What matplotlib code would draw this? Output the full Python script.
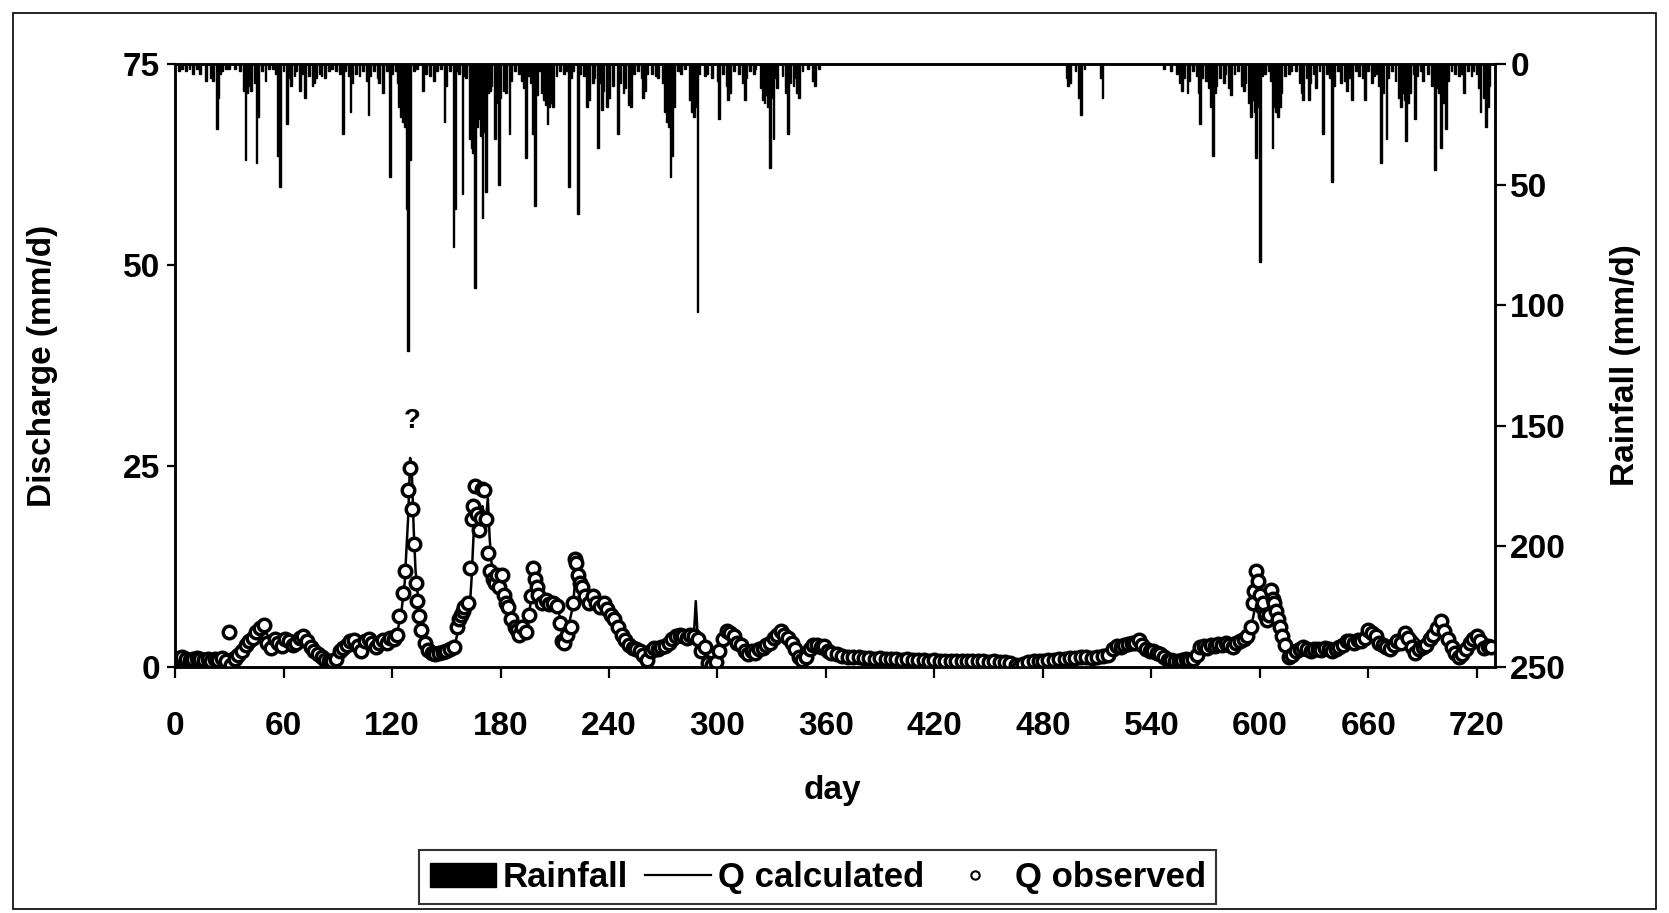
import numpy as np
import matplotlib

matplotlib.use("Agg")
import matplotlib.pyplot as plt
from matplotlib.patches import Rectangle
from matplotlib.lines import Line2D

plt.rcParams.update({
    "font.family": ["Liberation Sans", "DejaVu Sans"],
    "font.weight": "bold",
    "font.size": 24,
    "axes.linewidth": 1.8,
})

# ---- rainfall (mm/d) at the top -------------------------------------------
RAIN_DAY = [
    2, 4, 6, 8, 10, 12, 14, 17, 20, 21, 23, 24, 25, 26, 28, 30, 33, 36, 38, 39,
    40, 41, 42, 44, 45, 46, 48, 50, 52, 54, 56, 57, 58, 60, 62, 63, 64, 66, 67,
    69, 70, 72, 74, 76, 77, 78, 80, 81, 83, 85, 87, 89, 91, 93, 94, 96, 97, 98,
    100, 102, 104, 106, 107, 108, 110, 112, 113, 115, 117, 119, 120, 122, 123,
    124, 125, 126, 127, 128, 129, 130,
    132, 134, 137, 139, 141, 143, 145, 147, 149, 150, 152, 154, 155, 156, 157,
    159, 160, 161, 163, 164, 165, 166, 167, 168, 169, 170, 171, 172, 173, 174,
    175, 177, 178, 179, 180, 182, 183, 185, 186, 188, 190, 192, 193, 194, 195,
    197, 198, 199, 200, 202, 203, 204, 205, 206, 207, 208, 209, 211, 213, 215,
    216, 218, 219, 220, 223, 224, 226, 228, 229, 231, 232, 234, 235, 236, 237,
    239, 240, 242, 245, 246, 248, 249, 251, 252, 254, 256,
    258, 259, 260, 261, 264, 266, 267, 270, 271, 272, 273, 274, 275, 276, 278,
    280, 282, 285, 286, 287, 288, 289, 290, 293, 294, 297, 300, 301, 303, 305,
    306, 307, 309, 312, 314, 315, 316, 318, 320, 321, 324, 325, 326, 327, 328,
    329, 330, 331, 332, 333, 336, 338, 339, 340, 342, 343, 344, 345, 347, 350,
    353, 354, 356,
    493, 494, 495, 498, 500, 501, 503, 512, 513,
    547, 551, 554, 556, 557, 558, 560, 561, 563, 565, 566, 567, 568, 570, 571,
    572, 573, 574, 575, 576, 578, 580, 581, 583, 584, 586, 588, 590, 591, 592,
    594, 595, 596, 597, 598, 599, 600, 601, 603, 605, 606, 607, 608, 609, 610,
    611, 612, 614, 616, 617, 620, 622, 623, 624, 626, 627, 628, 630, 631, 633,
    635, 637, 639, 640, 641, 643, 645, 647, 648, 650, 651, 653, 655, 657, 658,
    660, 662, 663, 665, 666, 667, 668, 670, 671, 673, 675, 677, 678, 679, 680,
    681, 682, 683, 685, 686, 687, 689, 690, 693, 695, 696, 697, 698, 699, 700,
    701, 702, 703, 704, 706, 708, 710, 712, 713, 715, 717, 718, 720, 721, 722,
    724, 725, 726, 727,
]
RAIN_MM = [
    3, 2, 3, 2, 4, 2, 4, 7, 6, 7, 27, 14, 4, 3, 2, 2, 2, 3, 11, 40,
    12, 9, 11, 8, 41, 22, 3, 7, 2, 2, 4, 38, 51, 3, 25, 6, 9, 5, 3,
    11, 4, 14, 5, 9, 8, 6, 4, 5, 6, 3, 2, 3, 4, 29, 3, 5, 20, 8,
    4, 5, 3, 7, 21, 5, 3, 6, 8, 12, 3, 47, 4, 3, 8,
    18, 22, 24, 26, 60, 119, 40,
    3, 2, 11, 4, 5, 7, 3, 2, 24, 9, 3, 76, 60, 3, 4,
    54, 5, 6, 31, 35, 37, 93, 26, 23, 30, 64, 28, 53, 12, 11,
    9, 31, 16, 50, 14, 11, 12, 29, 7, 3, 4, 7, 10, 39, 5,
    8, 29, 59, 13, 3, 12, 15, 17, 25, 18, 16, 18, 5, 3, 4,
    3, 51, 6, 3, 62, 4, 5, 18, 15, 8, 6, 35, 8, 19, 11,
    18, 14, 9, 29, 8, 12, 10, 17, 18, 4, 3,
    6, 14, 11, 4, 4, 5, 6, 8, 20, 24, 26, 47, 38, 18, 3,
    4, 2, 15, 20, 22, 18, 103, 4, 5, 4, 6, 7, 23, 4, 9,
    15, 12, 3, 4, 8, 15, 6, 3, 4, 2, 10, 15, 16, 13, 18,
    43, 14, 31, 6, 10, 5, 12, 29, 8, 9, 6, 12, 14, 3, 2,
    7, 9, 2,
    6, 9, 8, 3, 14, 21, 2, 6, 14,
    2, 3, 4, 8, 11, 6, 12, 7, 3, 5, 12, 25, 6, 7, 3,
    10, 18, 38, 12, 9, 6, 8, 4, 10, 13, 4, 3, 9, 11, 8,
    16, 22, 15, 20, 39, 18, 82, 5, 4, 3, 7, 35, 18, 20, 22,
    18, 12, 5, 4, 3, 3, 8, 12, 15, 6, 15, 8, 4, 10, 3,
    29, 4, 6, 49, 9, 3, 8, 7, 11, 6, 15, 3, 5, 6, 15,
    3, 8, 5, 4, 9, 41, 12, 31, 6, 3, 7, 14, 18, 12, 15,
    32, 16, 12, 4, 23, 5, 3, 7, 4, 9, 8, 44, 10, 12, 35,
    15, 16, 27, 7, 3, 4, 5, 4, 12, 3, 5, 3, 4, 10, 20,
    14, 26, 18, 9,
]

# ---- calculated discharge (mm/d) ------------------------------------------
QC_DAY = [
    0, 5, 10, 15, 20, 24, 27, 30, 33, 36, 39, 42, 45, 48, 50, 52, 55, 58, 61,
    64, 67, 70, 73, 76, 79, 82, 85, 88, 91, 94, 97, 100, 103, 106, 109, 112,
    115, 118, 121, 123, 125, 127, 129, 130, 131, 132, 133, 134, 135, 137, 139,
    141, 144, 147, 150, 153, 155, 157, 159, 161, 163, 164, 165, 166, 167, 168,
    169, 170, 171, 172, 173, 174, 175, 177, 179, 181, 183, 185, 187, 189, 191,
    193, 195, 197, 199, 200, 202, 204, 206, 208, 210, 212, 214, 216, 218, 220,
    222, 224, 226, 228, 230, 232, 234, 236, 238, 240, 242, 244, 246, 248, 250,
    252, 255, 258, 261, 264, 267, 270, 273, 276, 279, 282, 285, 287, 288, 289,
    291, 293, 295, 297, 299, 301, 303, 305, 307, 309, 311, 313, 315, 317, 319,
    321, 323, 325, 327, 328, 330, 332, 334, 336, 338, 340, 342, 344, 346, 348,
    350, 352, 355, 358, 361, 364, 367, 370, 380, 390, 400, 410, 420, 430, 440,
    450, 460, 465, 470, 480, 490, 500, 510, 515, 519, 523, 527, 531, 535, 539,
    543, 547, 551, 555, 559, 563, 566, 569, 572, 575, 578, 581, 584, 587, 590,
    593, 595, 597, 599, 600, 602, 604, 606, 608, 610, 612, 614, 616, 618, 620,
    623, 626, 629, 632, 635, 638, 641, 644, 647, 650, 653, 656, 659, 662, 665,
    668, 671, 674, 677, 680, 683, 686, 689, 692, 695, 698, 700, 702, 705, 708,
    711, 714, 717, 720, 723, 726, 729,
]
QC_VAL = [
    1.2, 1.1, 1.0, 1.0, 0.9, 1.5, 1.2, 1.6, 2.0, 2.4, 2.8, 3.5, 3.8, 4.0, 4.5,
    3.6, 3.2, 3.4, 3.0, 2.8, 3.0, 3.4, 3.2, 2.6, 1.9, 1.4, 1.0, 0.9, 1.6, 2.2,
    2.4, 2.8, 2.9, 2.7, 3.0, 3.2, 3.0, 3.3, 3.6, 4.5, 6.5, 10.5, 19.0, 26.0,
    24.0, 17.0, 12.0, 9.5, 7.5, 5.5, 3.8, 2.6, 2.1, 2.0, 2.1, 2.3, 3.0, 5.0,
    6.0, 6.8, 7.5, 11.0, 16.0, 19.5, 20.0, 18.0, 17.0, 20.0, 19.0, 18.5, 21.0,
    16.0, 13.0, 11.5, 11.0, 10.5, 9.0, 7.5, 5.8, 4.8, 4.5, 4.6, 5.5, 8.5, 11.5,
    11.0, 9.5, 8.5, 8.3, 8.0, 7.8, 7.0, 5.0, 4.0, 5.5, 7.5, 12.5, 12.0, 10.0,
    9.0, 8.5, 8.0, 8.3, 7.8, 7.5, 7.0, 6.5, 5.8, 5.0, 4.2, 3.4, 3.0, 2.6, 2.5,
    2.0, 2.3, 2.5, 2.6, 3.2, 3.6, 3.8, 3.9, 4.0, 4.2, 8.2, 4.0, 3.0, 2.2, 1.3,
    0.8, 1.2, 2.5, 3.2, 3.8, 4.0, 3.6, 3.0, 2.6, 2.5, 2.2, 2.0, 2.2, 2.4, 2.6,
    2.8, 3.3, 3.5, 3.8, 4.0, 3.8, 3.5, 3.2, 2.6, 1.8, 1.2, 1.0, 1.8, 2.5, 2.7,
    2.5, 2.2, 1.9, 1.6, 1.4, 1.2, 1.1, 1.0, 0.9, 0.9, 0.8, 0.8, 0.7, 0.6, 0.4,
    0.6, 0.8, 0.9, 1.0, 1.2, 1.4, 2.0, 2.6, 2.9, 3.0, 2.6, 2.2, 1.8, 1.4, 1.0,
    0.9, 0.9, 1.0, 2.0, 2.4, 2.6, 2.8, 2.7, 2.9, 3.0, 3.1, 3.3, 3.9, 4.8, 7.0,
    9.5, 9.8, 8.5, 7.0, 7.5, 8.0, 7.0, 5.5, 4.2, 3.5, 2.6, 2.0, 2.2, 2.3, 2.2,
    2.3, 2.4, 2.3, 2.5, 2.6, 3.0, 3.2, 3.1, 3.3, 3.5, 4.0, 4.2, 3.6, 3.0, 2.6,
    2.8, 3.2, 3.0, 3.8, 3.0, 2.2, 2.4, 3.5, 5.0, 4.2, 3.2, 2.4, 1.8, 2.0, 2.6,
    3.2, 3.4, 2.8, 2.6,
]

# ---- observed discharge (mm/d) --------------------------------------------
QO_DAY = [
    0, 2, 4, 6, 8, 10, 12, 14, 16, 18, 20, 22, 24, 26, 28, 30, 31, 33, 35, 37,
    39, 41, 43, 45, 47, 49, 51, 53, 55, 57, 59, 61, 63, 65, 67, 69, 71, 73, 75,
    77, 79, 81, 83, 85, 87, 89, 91, 93, 95, 97, 99, 101, 103, 105, 107, 109,
    111, 113, 115, 117, 119, 121, 123, 124, 126, 127, 129, 130, 131, 132, 133,
    134, 135, 136, 138, 140, 142, 144, 146, 148, 150, 152, 154, 156, 157, 158,
    159, 160, 162, 163, 164, 165, 166, 167, 168, 169, 170, 171, 172, 173, 174,
    176, 177, 178, 179, 181, 182, 183, 184, 186, 188, 189, 190, 192, 194, 196,
    197, 198, 199, 200, 201, 203, 205, 207, 209, 211, 213, 214, 215, 217, 219,
    220, 221, 222, 223, 224, 225, 227, 229, 231, 233, 235, 237, 239, 241, 243,
    245, 247, 249, 251, 253, 255, 257, 259, 261, 263, 265, 267, 269, 271, 273,
    275, 277, 279, 281, 283, 285, 287, 289, 291, 293, 295, 297, 299, 301, 303,
    305, 307, 309, 311, 313, 315, 317, 319, 321, 323, 325, 327, 329, 331, 333,
    335, 337, 339, 341, 343, 345, 347, 349, 351, 353, 355, 357, 359, 361, 363,
    366, 369, 372, 375, 378, 381, 384, 387, 390, 393, 396, 399, 402, 405, 408,
    411, 414, 417, 420, 423, 426, 429, 432, 435, 438, 441, 444, 447, 450, 453,
    456, 459, 462, 465, 467, 469, 472, 475, 478,
    480, 483, 486, 489, 492, 495, 498, 501, 504, 507, 510, 513, 516, 519, 521,
    523, 525, 527, 529, 531, 533, 535, 537, 539, 541, 543, 545, 547, 549, 551,
    553, 555, 557, 559, 561, 563, 565, 567, 569, 571, 573, 575, 577, 579, 581,
    583, 585, 587, 589, 591, 593, 595, 596, 597, 598, 599, 600, 601, 602, 603,
    604, 605, 606, 607, 608, 609, 610, 611, 612, 614, 616, 618, 620, 622, 624,
    626, 628, 630, 632, 634, 636, 638, 640, 642, 644, 646, 648, 650, 652, 654,
    656, 658, 660, 662, 664, 666, 668, 670, 672, 674, 676, 678, 680, 682, 684,
    686, 688, 690, 692, 694, 696, 698, 700, 702, 704, 706, 708, 710, 712, 714,
    716, 718, 720, 722, 724, 726, 728,
]
QO_VAL = [
    1.0, 1.1, 1.2, 1.0, 0.9, 1.0, 1.1, 1.0, 0.9, 1.0, 0.8, 1.0, 0.9, 1.1, 0.8,
    4.4, 0.2, 1.0, 1.5, 2.0, 2.8, 3.3, 3.6, 4.3, 4.8, 5.2, 3.0, 2.4, 3.5, 3.0,
    2.6, 3.5, 3.3, 2.7, 3.0, 3.6, 3.8, 3.3, 2.5, 2.0, 1.6, 1.2, 0.9, 0.7, 0.8,
    1.0, 2.0, 2.4, 2.7, 3.2, 3.4, 2.6, 2.0, 3.3, 3.5, 3.0, 2.5, 3.0, 3.4, 3.0,
    3.6, 3.5, 4.0, 6.3, 9.2, 12.0, 22.0, 24.7, 19.6, 15.3, 10.5, 8.2, 6.3, 4.6,
    3.0, 2.1, 1.8, 1.6, 1.7, 1.9, 2.0, 2.2, 2.5, 5.0, 6.0, 6.5, 7.0, 7.5, 8.0,
    12.3, 18.4, 20.0, 22.5, 19.0, 17.0, 18.5, 22.2, 22.0, 18.4, 14.2, 12.0,
    11.0, 10.5, 11.5, 10.0, 11.5, 9.0, 8.0, 7.5, 6.0, 5.0, 4.6, 4.0, 5.0, 4.3,
    6.5, 8.8, 12.3, 11.0, 10.0, 9.0, 8.0, 8.3, 7.8, 8.0, 7.6, 5.5, 3.2, 3.0,
    4.0, 5.0, 8.0, 13.4, 13.0, 11.5, 10.5, 10.0, 8.8, 8.0, 8.8, 8.0, 7.5, 8.0,
    7.2, 6.5, 6.0, 5.0, 4.0, 3.4, 2.8, 2.4, 2.2, 2.0, 1.5, 0.9, 2.0, 2.4, 2.2,
    2.5, 2.6, 3.0, 3.5, 3.8, 4.0, 3.8, 3.6, 4.0, 3.9, 3.5, 2.0, 2.5, 0.5, 0.3,
    0.6, 2.0, 3.5, 4.5, 4.2, 3.8, 3.0, 2.8, 2.0, 1.6, 2.0, 1.8, 2.2, 2.4, 2.8,
    3.0, 3.6, 4.0, 4.5, 4.0, 3.6, 3.0, 2.2, 1.2, 0.9, 1.2, 2.2, 2.8, 2.8, 2.5,
    2.6, 2.0, 1.8, 1.6, 1.4, 1.3, 1.2, 1.2, 1.1, 1.1, 1.0, 1.1, 1.0, 1.0, 1.0,
    0.9, 1.0, 0.9, 0.9, 0.9, 0.8, 0.9, 0.8, 0.8, 0.8, 0.8, 0.7, 0.8, 0.7, 0.7,
    0.7, 0.6, 0.7, 0.6, 0.6, 0.5, 0.3, 0.0, 0.4, 0.6, 0.7, 0.8,
    0.8, 0.9, 0.9, 1.0, 1.0, 1.1, 1.1, 1.2, 1.2, 1.1, 1.3, 1.4, 1.5, 2.3, 2.6,
    2.5, 2.8, 2.9, 3.0, 3.0, 3.4, 2.7, 2.2, 2.0, 2.0, 1.8, 1.6, 1.2, 0.9, 0.9,
    0.8, 0.8, 0.9, 1.0, 0.9, 1.0, 1.5, 2.5, 2.6, 2.4, 2.8, 2.6, 2.9, 2.7, 3.0,
    2.8, 2.5, 3.0, 3.2, 3.5, 3.8, 5.0, 8.0, 9.5, 12.0, 10.7, 9.0, 7.5, 8.0, 6.5,
    5.9, 6.5, 9.6, 8.5, 8.0, 7.0, 6.0, 5.0, 3.8, 2.8, 1.3, 1.5, 2.0, 2.3, 2.5,
    2.2, 2.0, 2.2, 2.3, 2.1, 2.4, 2.2, 2.0, 2.3, 2.5, 2.8, 3.2, 3.3, 3.0, 3.4,
    3.2, 3.6, 4.6, 4.2, 3.8, 3.0, 2.8, 2.5, 2.2, 2.8, 3.2, 3.0, 4.2, 3.6, 2.5,
    1.7, 2.2, 2.5, 2.8, 3.5, 4.0, 4.8, 5.7, 4.5, 3.5, 2.5, 1.8, 1.3, 1.6, 2.2,
    3.0, 3.5, 3.8, 3.2, 2.4, 2.6, 2.5,
]

# doubtful observed peak, drawn as "?" in the original
QUERY_DAY = 131
QUERY_Q = 30.6

DAY_TICKS = list(range(0, 721, 60))
Q_TICKS = [0, 25, 50, 75]
RAIN_TICKS = [0, 50, 100, 150, 200, 250]

# ---------------------------------------------------------------------------
fig = plt.figure(figsize=(16.69, 9.13), dpi=100)
ax = fig.add_axes([0.1049, 0.2694, 0.7908, 0.6605])
ax2 = ax.twinx()

ax2.bar(RAIN_DAY, RAIN_MM, width=1.0, color="black", edgecolor="black",
        linewidth=1.0, align="center")
ax2.set_ylim(250, 0)
ax2.set_yticks(RAIN_TICKS)

ax.plot(QC_DAY, QC_VAL, color="black", lw=1.8, zorder=3)
ax.plot(QO_DAY, QO_VAL, ls="none", marker="o", ms=9, mfc="white",
        mec="black", mew=2.5, zorder=4)
ax.text(QUERY_DAY, QUERY_Q, "?", ha="center", va="center", fontsize=20,
        fontweight="bold")

ax.set_xlim(0, 730)
ax.set_ylim(0, 75)
ax.set_xticks(DAY_TICKS)
ax.set_yticks(Q_TICKS)

ax.tick_params(axis="x", direction="out", length=8, width=1.6, pad=24)
ax.tick_params(axis="y", direction="out", length=6, width=1.6, pad=5)
ax2.tick_params(axis="y", direction="out", length=8, width=1.6, pad=3)

ax.set_xlabel("day", fontsize=24, fontweight="bold")
ax.set_ylabel("Discharge (mm/d)", fontsize=24, fontweight="bold")
ax2.set_ylabel("Rainfall (mm/d)", fontsize=24, fontweight="bold")
ax.xaxis.set_label_coords(0.498, -0.179)
ax.yaxis.set_label_coords(-0.089, 0.5)
ax2.yaxis.set_label_coords(1.087, 0.5)

for a in (ax, ax2):
    for s in a.spines.values():
        s.set_linewidth(1.8)
        s.set_color("black")

# outer frame of the scanned figure
fig.patches.append(Rectangle((0.008, 0.004), 0.984, 0.982,
                             transform=fig.transFigure, fill=False,
                             edgecolor="black", lw=1.2))

handles = [
    Rectangle((0, 0), 1, 1, facecolor="black", edgecolor="black"),
    Line2D([], [], color="black", lw=1.6),
    Line2D([], [], ls="none", marker="o", ms=6, mfc="white", mec="black",
           mew=1.5),
]
leg = fig.legend(handles, ["Rainfall", "Q calculated", "Q observed"],
                 loc="center", bbox_to_anchor=(0.49, 0.039), ncol=3,
                 frameon=True, fancybox=False, edgecolor="black",
                 fontsize=25, handlelength=1.9, handletextpad=0.2,
                 columnspacing=0.5, borderpad=0.3, borderaxespad=0)
leg.get_frame().set_linewidth(1.5)

fig.savefig("out.png", dpi=100, facecolor="white")
